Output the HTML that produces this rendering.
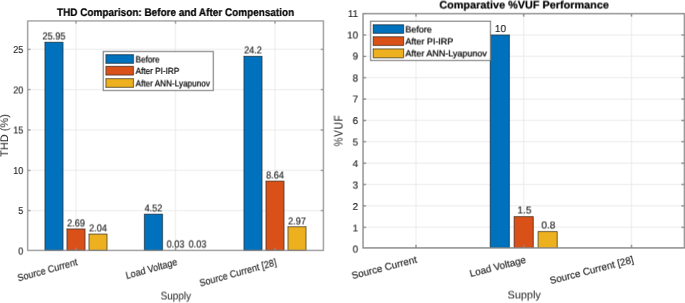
<!DOCTYPE html>
<html><head><meta charset="utf-8"><title>THD and %VUF comparison</title>
<style>
html,body{margin:0;padding:0;background:#fff;}
body{width:685px;height:303px;overflow:hidden;}
svg{display:block;font-family:'Liberation Sans', Arial, sans-serif;text-rendering:geometricPrecision;will-change:transform;}
</style></head><body>
<svg width="685" height="303" viewBox="0 0 685 303">
<filter id="nf" filterUnits="userSpaceOnUse" x="0" y="0" width="685" height="303"><feOffset dx="0" dy="0"/></filter>
<rect width="685" height="303" fill="#fff"/>
<g filter="url(#nf)">
<g id="chart" transform="translate(-0.33 -0.33)">
<rect x="-1" y="-1" width="687" height="305" fill="#fff"/>
<path d="M76 20.9V250.4M175.5 20.9V250.4M275 20.9V250.4M27.75 250.4H323.4M27.75 210.66H323.4M27.75 170.33H323.4M27.75 130H323.4M27.75 89.68H323.4M27.75 49.35H323.4" stroke="#e6e6e6" stroke-width="0.8" fill="none"/>
<rect x="44.92" y="42.33" width="18.1" height="208.07" fill="#0072BD" stroke="#000" stroke-width="0.55"/>
<text transform="translate(53.97 39.43) scale(0.905 1.0)" font-size="10.15" text-anchor="middle" fill="#262626" stroke="#262626" stroke-width="0.15">25.95</text>
<rect x="66.95" y="228.92" width="18.1" height="21.48" fill="#D95319" stroke="#000" stroke-width="0.55"/>
<text transform="translate(76 226.42) scale(0.905 1.0)" font-size="10.15" text-anchor="middle" fill="#262626" stroke="#262626" stroke-width="0.15">2.69</text>
<rect x="88.98" y="234.14" width="18.1" height="16.26" fill="#EDB120" stroke="#000" stroke-width="0.55"/>
<text transform="translate(98.03 231.64) scale(0.905 1.0)" font-size="10.15" text-anchor="middle" fill="#262626" stroke="#262626" stroke-width="0.15">2.04</text>
<rect x="144.42" y="214.24" width="18.1" height="36.16" fill="#0072BD" stroke="#000" stroke-width="0.55"/>
<text transform="translate(153.47 211.74) scale(0.905 1.0)" font-size="10.15" text-anchor="middle" fill="#262626" stroke="#262626" stroke-width="0.15">4.52</text>
<text transform="translate(175.5 247.76) scale(0.905 1.0)" font-size="10.15" text-anchor="middle" fill="#262626" stroke="#262626" stroke-width="0.15">0.03</text>
<text transform="translate(197.53 247.76) scale(0.905 1.0)" font-size="10.15" text-anchor="middle" fill="#262626" stroke="#262626" stroke-width="0.15">0.03</text>
<rect x="243.92" y="56.37" width="18.1" height="194.03" fill="#0072BD" stroke="#000" stroke-width="0.55"/>
<text transform="translate(252.97 53.47) scale(0.905 1.0)" font-size="10.15" text-anchor="middle" fill="#262626" stroke="#262626" stroke-width="0.15">24.2</text>
<rect x="265.95" y="181.19" width="18.1" height="69.21" fill="#D95319" stroke="#000" stroke-width="0.55"/>
<text transform="translate(275 178.69) scale(0.905 1.0)" font-size="10.15" text-anchor="middle" fill="#262626" stroke="#262626" stroke-width="0.15">8.64</text>
<rect x="287.98" y="226.67" width="18.1" height="23.73" fill="#EDB120" stroke="#000" stroke-width="0.55"/>
<text transform="translate(297.03 224.17) scale(0.905 1.0)" font-size="10.15" text-anchor="middle" fill="#262626" stroke="#262626" stroke-width="0.15">2.97</text>
<path d="M27.75 20.9H323.4V250.4H27.75ZM76 250.4v-2.7M76 20.9v2.7M175.5 250.4v-2.7M175.5 20.9v2.7M275 250.4v-2.7M275 20.9v2.7M27.75 250.4h2.7M323.4 250.4h-2.7M27.75 210.66h2.7M323.4 210.66h-2.7M27.75 170.33h2.7M323.4 170.33h-2.7M27.75 130h2.7M323.4 130h-2.7M27.75 89.68h2.7M323.4 89.68h-2.7M27.75 49.35h2.7M323.4 49.35h-2.7" stroke="#8c8c8c" stroke-width="1.2" fill="none"/>
<text transform="translate(23.3 254.48) scale(0.905 1.0)" font-size="10.0" text-anchor="end" fill="#262626" stroke="#262626" stroke-width="0.15">0</text>
<text transform="translate(23.3 214.16) scale(0.905 1.0)" font-size="10.0" text-anchor="end" fill="#262626" stroke="#262626" stroke-width="0.15">5</text>
<text transform="translate(23.3 173.83) scale(0.905 1.0)" font-size="10.0" text-anchor="end" fill="#262626" stroke="#262626" stroke-width="0.15">10</text>
<text transform="translate(23.3 133.5) scale(0.905 1.0)" font-size="10.0" text-anchor="end" fill="#262626" stroke="#262626" stroke-width="0.15">15</text>
<text transform="translate(23.3 93.18) scale(0.905 1.0)" font-size="10.0" text-anchor="end" fill="#262626" stroke="#262626" stroke-width="0.15">20</text>
<text transform="translate(23.3 52.85) scale(0.905 1.0)" font-size="10.0" text-anchor="end" fill="#262626" stroke="#262626" stroke-width="0.15">25</text>
<text transform="translate(77.9 264.9) scale(0.905 1.0) rotate(-14.2)" font-size="10.0" text-anchor="end" fill="#262626" stroke="#262626" stroke-width="0.15">Source Current</text>
<text transform="translate(177.8 264.8) scale(0.905 1.0) rotate(-14.2)" font-size="10.0" text-anchor="end" fill="#262626" stroke="#262626" stroke-width="0.15">Load Voltage</text>
<text transform="translate(277 265.2) scale(0.905 1.0) rotate(-14.2)" font-size="10.0" text-anchor="end" fill="#262626" stroke="#262626" stroke-width="0.15">Source Current [28]</text>
<text transform="translate(175.8 299.6) scale(0.905 1.0)" font-size="11.0" text-anchor="middle" fill="#262626">Supply</text>
<text transform="translate(7.9 135.5) scale(0.905 1.0) rotate(-90) scale(1 1.1)" font-size="11.0" text-anchor="middle" fill="#262626">THD (%)</text>
<text transform="translate(175.6 16) scale(0.905 1.0)" font-size="11.03" text-anchor="middle" font-weight="bold" fill="#000" stroke="#000" stroke-width="0.2">THD Comparison: Before and After Compensation</text>
<rect x="103.2" y="51.5" width="110.1" height="39" fill="#fff" stroke="#707070" stroke-width="1.0"/>
<rect x="105.9" y="54.6" width="27.6" height="8.8" fill="#0072BD" stroke="#000" stroke-width="0.55"/>
<text transform="translate(135.6 62.17) scale(0.905 1.0)" font-size="9.06" fill="#000" stroke="#000" stroke-width="0.22">Before</text>
<rect x="105.9" y="66.4" width="27.6" height="8.7" fill="#D95319" stroke="#000" stroke-width="0.55"/>
<text transform="translate(135.6 73.92) scale(0.905 1.0)" font-size="9.06" fill="#000" stroke="#000" stroke-width="0.22">After PI-IRP</text>
<rect x="105.9" y="78.6" width="27.6" height="8.8" fill="#EDB120" stroke="#000" stroke-width="0.55"/>
<text transform="translate(135.6 86.17) scale(0.905 1.0)" font-size="9.06" fill="#000" stroke="#000" stroke-width="0.22">After ANN-Lyapunov</text>
<path d="M416 13.7V247.9M523.8 13.7V247.9M631.5 13.7V247.9M363.05 247.9H684.4M363.05 227.24H684.4M363.05 205.88H684.4M363.05 184.52H684.4M363.05 163.16H684.4M363.05 141.8H684.4M363.05 120.44H684.4M363.05 99.08H684.4M363.05 77.72H684.4M363.05 56.36H684.4M363.05 35H684.4M363.05 13.64H684.4" stroke="#e6e6e6" stroke-width="0.8" fill="none"/>
<rect x="490.28" y="35" width="19.15" height="212.9" fill="#0072BD" stroke="#000" stroke-width="0.55"/>
<text transform="translate(500.46 32.1) scale(1.0 1.0)" font-size="10.1" text-anchor="middle" fill="#262626" stroke="#262626" stroke-width="0.15">10</text>
<rect x="514.22" y="216.56" width="19.15" height="31.34" fill="#D95319" stroke="#000" stroke-width="0.55"/>
<text transform="translate(524.4 213.66) scale(1.0 1.0)" font-size="10.1" text-anchor="middle" fill="#262626" stroke="#262626" stroke-width="0.15">1.5</text>
<rect x="538.16" y="231.51" width="19.15" height="16.39" fill="#EDB120" stroke="#000" stroke-width="0.55"/>
<text transform="translate(548.34 228.61) scale(1.0 1.0)" font-size="10.1" text-anchor="middle" fill="#262626" stroke="#262626" stroke-width="0.15">0.8</text>
<path d="M363.05 13.7H684.4V247.9H363.05ZM416 247.9v-3.0M416 13.7v3.0M523.8 247.9v-3.0M523.8 13.7v3.0M631.5 247.9v-3.0M631.5 13.7v3.0M363.05 247.9h3.0M684.4 247.9h-3.0M363.05 227.24h3.0M684.4 227.24h-3.0M363.05 205.88h3.0M684.4 205.88h-3.0M363.05 184.52h3.0M684.4 184.52h-3.0M363.05 163.16h3.0M684.4 163.16h-3.0M363.05 141.8h3.0M684.4 141.8h-3.0M363.05 120.44h3.0M684.4 120.44h-3.0M363.05 99.08h3.0M684.4 99.08h-3.0M363.05 77.72h3.0M684.4 77.72h-3.0M363.05 56.36h3.0M684.4 56.36h-3.0M363.05 35h3.0M684.4 35h-3.0M363.05 13.64h3.0M684.4 13.64h-3.0" stroke="#858585" stroke-width="1.3" fill="none"/>
<text transform="translate(358.1 252.75) scale(1.0 1.0)" font-size="9.9" text-anchor="end" fill="#262626" stroke="#262626" stroke-width="0.15">0</text>
<text transform="translate(358.1 231.31) scale(1.0 1.0)" font-size="9.9" text-anchor="end" fill="#262626" stroke="#262626" stroke-width="0.15">1</text>
<text transform="translate(358.1 209.87) scale(1.0 1.0)" font-size="9.9" text-anchor="end" fill="#262626" stroke="#262626" stroke-width="0.15">2</text>
<text transform="translate(358.1 188.42) scale(1.0 1.0)" font-size="9.9" text-anchor="end" fill="#262626" stroke="#262626" stroke-width="0.15">3</text>
<text transform="translate(358.1 166.99) scale(1.0 1.0)" font-size="9.9" text-anchor="end" fill="#262626" stroke="#262626" stroke-width="0.15">4</text>
<text transform="translate(358.1 145.55) scale(1.0 1.0)" font-size="9.9" text-anchor="end" fill="#262626" stroke="#262626" stroke-width="0.15">5</text>
<text transform="translate(358.1 124.11) scale(1.0 1.0)" font-size="9.9" text-anchor="end" fill="#262626" stroke="#262626" stroke-width="0.15">6</text>
<text transform="translate(358.1 102.67) scale(1.0 1.0)" font-size="9.9" text-anchor="end" fill="#262626" stroke="#262626" stroke-width="0.15">7</text>
<text transform="translate(358.1 81.23) scale(1.0 1.0)" font-size="9.9" text-anchor="end" fill="#262626" stroke="#262626" stroke-width="0.15">8</text>
<text transform="translate(358.1 59.78) scale(1.0 1.0)" font-size="9.9" text-anchor="end" fill="#262626" stroke="#262626" stroke-width="0.15">9</text>
<text transform="translate(358.1 38.35) scale(1.0 1.0)" font-size="9.9" text-anchor="end" fill="#262626" stroke="#262626" stroke-width="0.15">10</text>
<text transform="translate(358.1 16.91) scale(1.0 1.0)" font-size="9.9" text-anchor="end" fill="#262626" stroke="#262626" stroke-width="0.15">11</text>
<text transform="translate(417.5 262.4) scale(1.0 1.0) rotate(-14.5)" font-size="9.9" text-anchor="end" fill="#262626" stroke="#262626" stroke-width="0.15">Source Current</text>
<text transform="translate(526.5 262.6) scale(1.0 1.0) rotate(-14.5)" font-size="9.9" text-anchor="end" fill="#262626" stroke="#262626" stroke-width="0.15">Load Voltage</text>
<text transform="translate(634.2 262.6) scale(1.0 1.0) rotate(-14.5)" font-size="9.9" text-anchor="end" fill="#262626" stroke="#262626" stroke-width="0.15">Source Current [28]</text>
<text transform="translate(524.2 298.3) scale(1.0 1.0)" font-size="10.9" text-anchor="middle" fill="#262626">Supply</text>
<text transform="translate(342.3 130.4) scale(1.0 1.0) rotate(-90) scale(0.91 1.12)" font-size="10.9" text-anchor="middle" fill="#262626" letter-spacing="0.88">%VUF</text>
<text transform="translate(524.1 8.7) scale(1.0 1.0)" font-size="10.87" text-anchor="middle" font-weight="bold" fill="#000" stroke="#000" stroke-width="0.2">Comparative %VUF Performance</text>
<rect x="370.6" y="21.2" width="119.9" height="39.3" fill="#fff" stroke="#707070" stroke-width="1.0"/>
<rect x="373.3" y="24.7" width="30.3" height="8.7" fill="#0072BD" stroke="#000" stroke-width="0.55"/>
<text transform="translate(405.4 32.19) scale(1.0 1.0)" font-size="8.98" fill="#000" stroke="#000" stroke-width="0.22">Before</text>
<rect x="373.3" y="36.7" width="30.3" height="8.8" fill="#D95319" stroke="#000" stroke-width="0.55"/>
<text transform="translate(405.4 44.24) scale(1.0 1.0)" font-size="8.98" fill="#000" stroke="#000" stroke-width="0.22">After PI-IRP</text>
<rect x="373.3" y="48.9" width="30.3" height="8.9" fill="#EDB120" stroke="#000" stroke-width="0.55"/>
<text transform="translate(405.4 56.49) scale(1.0 1.0)" font-size="8.98" fill="#000" stroke="#000" stroke-width="0.22">After ANN-Lyapunov</text>
</g>
<use href="#chart" x="0.66" y="0" opacity="0.5000"/><use href="#chart" x="0" y="0.66" opacity="0.3333"/><use href="#chart" x="0.66" y="0.66" opacity="0.2500"/>
</g>
</svg>
</body></html>
